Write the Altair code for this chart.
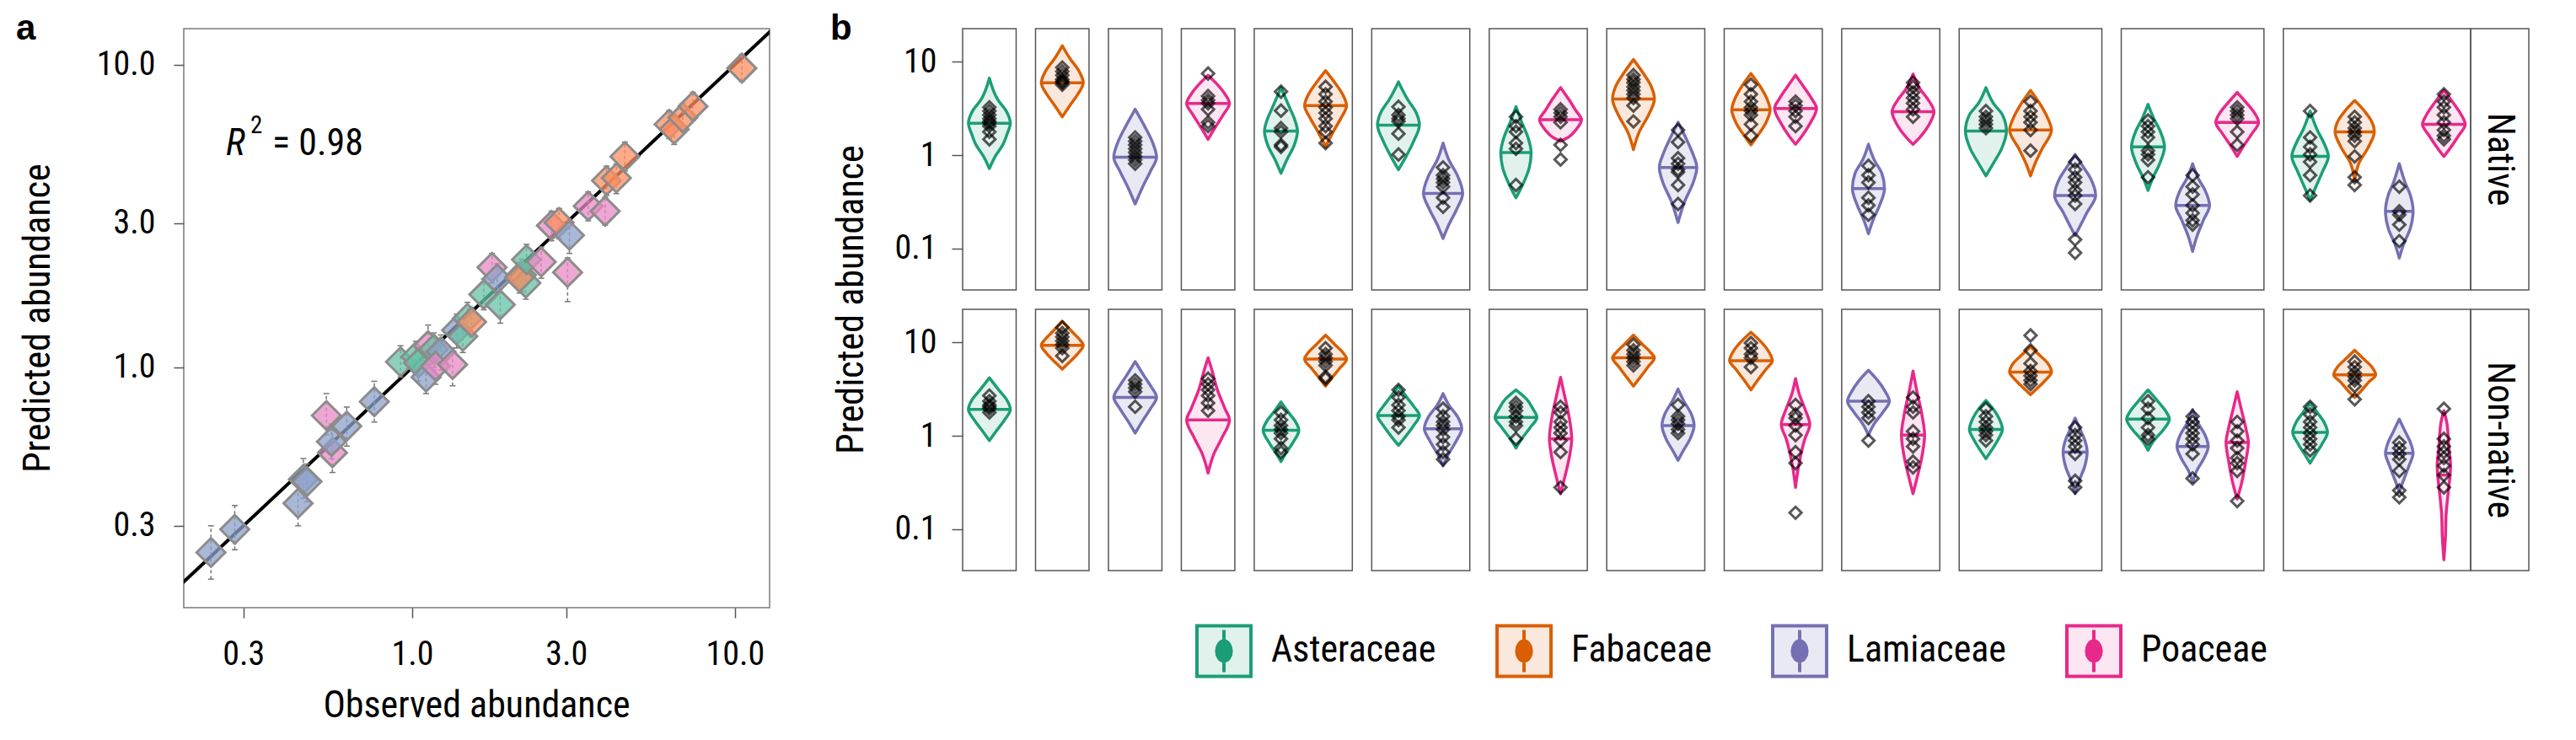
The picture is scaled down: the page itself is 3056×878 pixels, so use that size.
import altair as alt
import numpy as np
import pandas as pd

FONT = "Roboto Condensed, Liberation Sans, Arial, sans-serif"
BOLD = "Liberation Sans, Arial, sans-serif"
TICK_FS = 40
TITLE_FS = 44

FAMILIES = ["Asteraceae", "Fabaceae", "Lamiaceae", "Poaceae"]
FAM_CODE = {"A": "Asteraceae", "F": "Fabaceae", "L": "Lamiaceae", "P": "Poaceae"}
DARK = ["#1b9e77", "#d95f02", "#7570b3", "#e7298a"]
LIGHT = ["#e1f2ec", "#fbe8dc", "#e9e9f4", "#fce6f1"]
PASTEL = ["#66c2a5", "#fc8d62", "#8da0cb", "#e78ac3"]

# ---------------- panel a : observed vs predicted ----------------
OBS = [0.238, 0.282, 0.443, 0.460, 0.472, 0.566, 0.562, 0.542, 0.627, 0.763,
       0.920, 1.026, 1.045, 1.104, 1.12, 1.166, 1.227, 1.18, 1.334, 1.373,
       1.435, 1.483, 1.527, 1.667, 1.874, 1.767, 1.833, 2.18, 2.25, 2.15,
       2.26, 2.51, 2.70, 2.85, 3.07, 3.03, 3.51, 3.96, 4.00, 4.29,
       4.56, 6.25, 6.48, 6.89, 7.41, 10.5]
PRED = [0.245, 0.292, 0.356, 0.427, 0.420, 0.523, 0.569, 0.694, 0.640, 0.771,
        1.044, 1.085, 1.035, 0.929, 1.18, 1.15, 1.127, 1.01, 1.023, 1.328,
        1.267, 1.452, 1.413, 1.742, 1.611, 2.14, 1.96, 2.02, 1.90, 1.98,
        2.27, 2.23, 2.94, 3.01, 2.73, 2.06, 3.41, 3.28, 4.14, 4.22,
        4.97, 6.35, 6.11, 6.68, 7.28, 9.73]
PRED_LO = [0.20, 0.25, 0.30, 0.37, 0.36, 0.45, 0.50, 0.60, 0.55, 0.66,
           0.93, 0.95, 0.90, 0.82, 1.02, 1.00, 0.98, 0.88, 0.87, 1.16,
           1.12, 1.28, 1.26, 1.55, 1.40, 1.90, 1.75, 1.78, 1.68, 1.76,
           2.02, 1.97, 2.62, 2.66, 2.38, 1.65, 3.05, 2.95, 3.70, 3.75,
           4.45, 5.70, 5.45, 6.00, 6.55, 8.80]
PRED_HI = [0.30, 0.35, 0.41, 0.50, 0.48, 0.62, 0.65, 0.82, 0.74, 0.90,
           1.18, 1.22, 1.17, 1.05, 1.38, 1.30, 1.28, 1.14, 1.16, 1.50,
           1.43, 1.64, 1.58, 1.96, 1.82, 2.38, 2.20, 2.28, 2.13, 2.22,
           2.55, 2.50, 3.28, 3.35, 3.05, 2.30, 3.80, 3.65, 4.62, 4.70,
           5.55, 7.05, 6.85, 7.45, 8.10, 10.8]
FAM_A = list("LLLLLPLPLL" + "AAALPALPPL" + "AAFAAPLAAF" + "APPFLPPPFF" + "FFFFFF")
FIT_X = [0.15, 15.0]
FIT_Y = [0.15, 15.0]
R2_VALUE = "0.98"

# ---------------- panel b : violins ----------------
PANELS = [
    ["Asteraceae"], ["Fabaceae"], ["Lamiaceae"], ["Poaceae"],
    ["Asteraceae", "Fabaceae"], ["Asteraceae", "Lamiaceae"], ["Asteraceae", "Poaceae"],
    ["Fabaceae", "Lamiaceae"], ["Fabaceae", "Poaceae"], ["Lamiaceae", "Poaceae"],
    ["Asteraceae", "Fabaceae", "Lamiaceae"], ["Asteraceae", "Lamiaceae", "Poaceae"],
    ["Asteraceae", "Fabaceae", "Lamiaceae", "Poaceae"],
]
ROW_LABELS = ["Native", "Non-native"]

# violin outlines: (predicted abundance, half width in category units), bottom to top
NATIVE_OUTLINES = [
    [(0.72, 0), (0.97, .13), (1.29, .30), (1.70, .40), (2.2, .47), (2.97, .38), (3.93, .19), (6.7, 0)],
    [(2.58, 0), (3.41, .17), (4.51, .35), (5.97, .47), (7.9, .38), (10.9, .17), (14.9, 0)],
    [(0.30, 0), (0.46, .17), (0.67, .34), (0.95, .48), (1.41, .38), (2.05, .21), (3.11, 0)],
    [(1.48, 0), (1.95, .15), (2.71, .34), (3.58, .48), (4.51, .38), (5.70, .21), (7.19, 0)],
    [(0.64, 0), (0.89, .13), (1.29, .30), (1.81, .37), (2.47, .30), (3.26, .19), (5.3, 0)],
    [(1.23, 0), (1.78, .17), (2.47, .34), (3.41, .47), (4.51, .38), (5.97, .21), (8.05, 0)],
    [(0.70, 0), (0.97, .17), (1.41, .34), (2.1, .47), (2.97, .38), (3.93, .21), (6.1, 0)],
    [(0.128, 0), (0.18, .13), (0.26, .30), (0.39, .44), (0.61, .32), (0.89, .13), (1.35, 0)],
    [(0.35, 0), (0.46, .13), (0.74, .30), (1.07, .34), (1.55, .27), (2.25, .13), (3.32, 0)],
    [(1.41, 0), (1.55, .17), (1.86, .34), (2.4, .47), (2.97, .35), (3.93, .19), (5.3, 0)],
    [(1.15, 0), (1.78, .13), (2.71, .34), (4.0, .47), (5.44, .40), (7.19, .25), (10.6, 0)],
    [(0.19, 0), (0.32, .15), (0.51, .34), (0.74, .42), (1.07, .32), (1.41, .21), (2.25, 0)],
    [(1.29, 0), (1.62, .15), (2.25, .34), (3.06, .43), (4.11, .35), (5.44, .21), (7.5, 0)],
    [(1.31, 0), (1.62, .15), (2.25, .34), (3.17, .47), (4.11, .35), (5.19, .21), (7.2, 0)],
    [(0.144, 0), (0.20, .10), (0.29, .25), (0.44, .36), (0.64, .30), (0.89, .13), (1.31, 0)],
    [(1.31, 0), (1.55, .15), (2.05, .34), (2.92, .47), (3.93, .34), (5.19, .15), (7.4, 0)],
    [(0.60, 0), (0.81, .16), (1.17, .35), (1.81, .46), (2.71, .37), (3.58, .17), (5.3, 0)],
    [(0.60, 0), (0.81, .10), (1.17, .26), (1.86, .47), (2.47, .39), (3.26, .26), (4.95, 0)],
    [(0.138, 0), (0.166, .09), (0.24, .26), (0.37, .46), (0.56, .35), (0.74, .19), (1.02, 0)],
    [(0.42, 0), (0.56, .10), (0.81, .26), (1.23, .37), (1.78, .28), (2.47, .13), (3.5, 0)],
    [(0.093, 0), (0.132, .09), (0.20, .24), (0.29, .38), (0.42, .28), (0.56, .13), (0.81, 0)],
    [(0.97, 0), (1.23, .13), (1.70, .33), (2.25, .48), (2.83, .39), (3.58, .22), (4.7, 0)],
    [(0.33, 0), (0.46, .13), (0.67, .28), (0.97, .41), (1.35, .31), (1.86, .16), (2.97, 0)],
    [(0.53, 0), (0.81, .09), (1.23, .31), (1.78, .44), (2.35, .37), (2.97, .22), (3.85, 0)],
    [(0.079, 0), (0.109, .09), (0.166, .25), (0.25, .31), (0.37, .25), (0.51, .13), (0.81, 0)],
    [(0.97, 0), (1.17, .13), (1.62, .33), (2.14, .48), (2.71, .39), (3.58, .22), (4.95, 0)],
]
NATIVE_MEDIANS = [2.2, 5.97, 0.95, 3.58, 1.81, 3.41, 2.1, 0.39, 1.07, 2.4, 4.0, 0.74, 3.06,
                  3.17, 0.44, 2.92, 1.81, 1.86, 0.37, 1.23, 0.29, 2.25, 0.97, 1.78, 0.25, 2.14]
NATIVE_POINTS = [
    [3.26, 2.97, 2.70, 2.46, 2.30, 2.2, 2.05, 1.78, 1.48],
    [8.7, 7.9, 7.2, 6.5, 6.2, 6.0, 5.7],
    [1.55, 1.41, 1.29, 1.17, 1.07, 0.97, 0.89, 0.81],
    [7.5, 4.3, 3.9, 3.6, 3.1, 2.25, 2.05],
    [4.8, 3.0, 1.95, 1.78, 1.29, 1.23],
    [5.4, 4.5, 3.75, 3.25, 2.84, 2.46, 2.05, 1.78, 1.35],
    [3.3, 2.7, 2.46, 2.3, 1.7, 1.02],
    [0.74, 0.61, 0.56, 0.51, 0.46, 0.35, 0.28],
    [2.58, 2.05, 1.78, 1.35, 1.17, 0.48],
    [3.1, 2.83, 2.58, 2.25, 1.29, 0.9],
    [7.2, 6.5, 6.0, 5.4, 4.95, 4.5, 4.1, 3.4, 2.3],
    [1.86, 1.38, 0.93, 0.81, 0.70, 0.66, 0.48, 0.30],
    [5.7, 4.5, 3.75, 3.25, 2.97, 2.7, 2.14, 1.62],
    [3.75, 3.4, 2.97, 2.58, 2.05],
    [0.77, 0.61, 0.51, 0.35, 0.29, 0.23],
    [6.0, 5.4, 4.7, 4.1, 3.6, 3.1, 2.58],
    [2.97, 2.58, 2.35, 2.14, 1.95],
    [3.75, 2.97, 2.58, 2.25, 1.86, 1.12],
    [0.85, 0.70, 0.58, 0.51, 0.42, 0.37, 0.30, 0.125, 0.09],
    [2.35, 2.05, 1.78, 1.55, 1.12, 1.02, 0.89, 0.58],
    [0.61, 0.46, 0.38, 0.29, 0.24, 0.20, 0.18],
    [3.26, 2.97, 2.7, 2.46, 1.78, 1.29],
    [2.97, 1.55, 1.23, 1.02, 0.85, 0.61, 0.37],
    [2.58, 2.25, 1.95, 1.78, 1.62, 1.41, 0.97, 0.58, 0.48],
    [0.46, 0.25, 0.23, 0.18, 0.12],
    [4.5, 3.75, 3.26, 2.7, 2.25, 1.86, 1.62, 1.48],
]

NONNATIVE_OUTLINES = [
    [(0.89, 0), (1.12, .15), (1.48, .34), (1.92, .47), (2.47, .38), (3.11, .21), (4.19, 0)],
    [(5.19, 0), (5.97, .13), (7.53, .34), (9.33, .47), (10.9, .38), (13.2, .21), (16.9, 0)],
    [(1.07, 0), (1.41, .15), (1.95, .34), (2.58, .48), (3.41, .35), (4.31, .21), (6.25, 0)],
    [(0.40, 0), (0.64, .13), (0.93, .30), (1.48, .48), (1.95, .38), (3.11, .21), (5.19, .08), (6.86, 0)],
    [(0.53, 0), (0.64, .10), (0.85, .27), (1.15, .40), (1.48, .30), (1.78, .17), (2.31, 0)],
    [(3.41, 0), (4.11, .13), (5.19, .30), (6.67, .47), (7.9, .38), (9.5, .21), (12.0, 0)],
    [(0.79, 0), (0.97, .15), (1.29, .34), (1.65, .47), (2.05, .35), (2.58, .19), (3.41, 0)],
    [(0.475, 0), (0.61, .10), (0.89, .30), (1.19, .42), (1.62, .32), (2.14, .13), (2.84, 0)],
    [(0.74, 0), (0.93, .13), (1.23, .32), (1.58, .47), (1.95, .38), (2.47, .24), (3.11, 0)],
    [(0.24, 0), (0.37, .10), (0.64, .21), (0.93, .25), (1.62, .19), (2.84, .08), (4.23, 0)],
    [(3.41, 0), (4.11, .13), (5.44, .32), (6.86, .47), (7.9, .38), (9.5, .21), (12.0, 0)],
    [(0.546, 0), (0.67, .10), (0.93, .27), (1.29, .36), (1.70, .30), (2.35, .13), (3.17, 0)],
    [(3.11, 0), (3.93, .15), (5.19, .34), (6.37, .48), (8.26, .38), (10.0, .24), (12.9, 0)],
    [(0.28, 0), (0.48, .07), (0.93, .21), (1.32, .32), (1.95, .21), (2.84, .08), (4.11, 0)],
    [(1.02, 0), (1.35, .13), (1.78, .32), (2.35, .47), (2.97, .38), (3.75, .24), (5.05, 0)],
    [(0.24, 0), (0.37, .10), (0.64, .21), (1.02, .26), (1.78, .19), (3.11, .08), (4.95, 0)],
    [(0.57, 0), (0.67, .10), (0.89, .26), (1.17, .37), (1.55, .29), (1.95, .16), (2.4, 0)],
    [(2.76, 0), (3.26, .16), (3.93, .33), (4.82, .47), (5.97, .39), (7.19, .22), (9.07, 0)],
    [(0.24, 0), (0.33, .09), (0.48, .22), (0.67, .27), (0.89, .22), (1.12, .13), (1.55, 0)],
    [(0.70, 0), (0.89, .13), (1.17, .35), (1.51, .48), (1.86, .39), (2.35, .22), (3.11, 0)],
    [(0.32, 0), (0.42, .09), (0.58, .26), (0.77, .35), (1.02, .28), (1.35, .13), (1.92, 0)],
    [(0.21, 0), (0.30, .09), (0.53, .19), (0.85, .25), (1.23, .19), (1.95, .09), (2.97, 0)],
    [(0.51, 0), (0.61, .10), (0.81, .26), (1.09, .39), (1.41, .31), (1.78, .16), (2.25, 0)],
    [(2.58, 0), (2.97, .13), (3.75, .31), (4.51, .47), (5.44, .39), (6.55, .22), (8.26, 0)],
    [(0.25, 0), (0.33, .09), (0.48, .22), (0.65, .31), (0.85, .25), (1.12, .13), (1.51, 0)],
    [(0.047, 0), (0.083, .035), (0.144, .05), (0.28, .11), (0.38, .14), (0.48, .15), (0.77, .11), (1.35, .07), (1.86, 0)],
]
NONNATIVE_MEDIANS = [1.92, 9.33, 2.58, 1.48, 1.15, 6.67, 1.65, 1.19, 1.58, 0.93, 6.86, 1.29, 6.37,
                     1.32, 2.35, 1.02, 1.17, 4.82, 0.67, 1.51, 0.77, 0.85, 1.09, 4.51, 0.65, 0.38]
NONNATIVE_POINTS = [
    [2.7, 2.35, 2.14, 2.05, 1.95, 1.78],
    [14.5, 12.6, 11.5, 10.4, 9.5, 8.7, 7.2],
    [3.93, 3.58, 3.26, 2.97, 2.05],
    [4.1, 3.58, 3.11, 2.7, 2.25, 1.86],
    [1.78, 1.48, 1.29, 1.17, 1.07, 0.93, 0.74, 0.67],
    [8.7, 7.5, 6.86, 6.25, 5.7, 4.3, 4.1],
    [3.11, 2.58, 2.14, 1.86, 1.62, 1.48, 1.23],
    [1.95, 1.62, 1.41, 1.29, 1.17, 0.97, 0.81, 0.67, 0.56],
    [2.25, 2.05, 1.86, 1.62, 1.41, 1.29, 0.93],
    [2.05, 1.78, 1.41, 1.23, 1.07, 0.89, 0.67, 0.28],
    [9.5, 8.25, 7.5, 6.86, 6.25, 5.7],
    [2.14, 1.62, 1.48, 1.35, 1.17, 1.07],
    [9.9, 8.7, 7.5, 6.86, 5.45],
    [2.14, 1.70, 1.55, 1.29, 1.02, 0.67, 0.51, 0.15],
    [2.35, 2.05, 1.78, 1.55, 0.89],
    [2.58, 2.05, 1.78, 1.12, 0.93, 0.77, 0.53, 0.46],
    [1.95, 1.62, 1.41, 1.23, 1.12, 1.02, 0.89],
    [11.9, 8.25, 5.97, 4.95, 4.41, 3.93, 3.58],
    [1.23, 1.02, 0.89, 0.77, 0.64, 0.33, 0.28],
    [2.35, 1.95, 1.55, 1.23, 1.02, 0.93],
    [1.62, 1.41, 1.23, 1.07, 0.93, 0.81, 0.64, 0.35],
    [1.41, 1.12, 0.89, 0.74, 0.58, 0.51, 0.42, 0.20],
    [2.05, 1.70, 1.41, 1.23, 1.07, 0.93, 0.81, 0.70],
    [6.25, 5.45, 4.72, 4.3, 3.93, 3.41, 2.46],
    [0.85, 0.74, 0.64, 0.56, 0.42, 0.26, 0.22],
    [1.95, 0.93, 0.77, 0.67, 0.58, 0.48, 0.38, 0.28],
]

# ---------------- layout constants (pixels) ----------------
A_W, A_H = 695, 687
UNIT = 52.9            # px per category slot in panel b
GAP_U = 23 / UNIT      # gap between panels
STRIP_U = 69 / UNIT    # strip width
ROW_H = 310

starts, ends = [], []
cur = 0.0
for fams in PANELS:
    starts.append(cur)
    ends.append(cur + len(fams) + 0.2)
    cur = ends[-1] + GAP_U
STRIP_S = ends[-1]
STRIP_E = STRIP_S + STRIP_U
XMAX = STRIP_E
ROW_W = round(XMAX * UNIT)


def row_tables(outlines, medians, points):
    outl, med, pts = [], [], []
    k = 0
    for i, fams in enumerate(PANELS):
        for j, fam in enumerate(fams):
            cx = starts[i] + 0.6 + j
            prof = outlines[k]
            for v, hw in prof:
                outl.append(dict(vid=k, family=fam, y=v, xl=cx - hw, xr=cx + hw))
            lv = np.log10([p[0] for p in prof])
            hws = [p[1] for p in prof]
            m = medians[k]
            mhw = float(np.interp(np.log10(m), lv, hws))
            med.append(dict(vid=k, family=fam, y=m, xl=cx - mhw, xr=cx + mhw))
            for v in points[k]:
                pts.append(dict(vid=k, family=fam, y=v, x=cx))
            k += 1
    return pd.DataFrame(outl), pd.DataFrame(med), pd.DataFrame(pts)


def ellipse(rx, ry):
    return f"M{-rx},0A{rx},{ry} 0 1,0 {rx},0A{rx},{ry} 0 1,0 {-rx},0Z"


KEY_PATH = ("M-1,-0.94H1V0.94H-1Z M0,-0.78V0.78 " +
            " ".join(ellipse(rx, ry) for rx, ry in
                     [(0.27, 0.37), (0.2, 0.28), (0.13, 0.19), (0.06, 0.1)]))

LEG = alt.Legend(title=None, orient="none", legendX=276, legendY=704,
                 direction="horizontal", symbolType=KEY_PATH, symbolSize=4096,
                 symbolStrokeWidth=4, symbolOpacity=1, labelFontSize=TITLE_FS,
                 labelFont=FONT, labelOffset=22, labelLimit=500, columnPadding=64,
                 labelColor="black")

fill_scale = alt.Scale(domain=FAMILIES, range=LIGHT)
stroke_scale = alt.Scale(domain=FAMILIES, range=DARK)
xs_b = alt.Scale(domain=[0, XMAX], nice=False, zero=False)
ys_b = alt.Scale(type="log", domain=[0.036, 22.7], nice=False)
yaxis_b = alt.Axis(values=[0.1, 1, 10], format="~g", title=None, tickSize=13,
                   labelPadding=18, labelFontSize=TICK_FS, domain=False, grid=False,
                   tickColor="#555", tickWidth=1.5)

frames_df = pd.DataFrame({"s": starts, "e": ends})


def build_row(outlines, medians, points, label, first):
    outl, med, pts = row_tables(outlines, medians, points)
    X = lambda f: alt.X(f, scale=xs_b, axis=None)
    Y = lambda f: alt.Y(f, scale=ys_b, axis=yaxis_b)
    area = alt.Chart(outl).mark_area(
        orient="horizontal", interpolate="monotone", strokeWidth=3.5,
        opacity=1, fillOpacity=1, strokeJoin="round").encode(
        y=Y("y:Q"), x=X("xl:Q"), x2="xr:Q", detail="vid:N",
        fill=alt.Fill("family:N", scale=fill_scale, legend=LEG),
        stroke=alt.Stroke("family:N", scale=stroke_scale, legend=LEG))
    medl = alt.Chart(med).mark_rule(strokeWidth=3.5).encode(
        y=Y("y:Q"), x=X("xl:Q"), x2="xr:Q",
        stroke=alt.Stroke("family:N", scale=stroke_scale, legend=LEG))
    dots = alt.Chart(pts).mark_point(
        shape="diamond", size=200, filled=False, color="black",
        opacity=0.65, strokeWidth=3).encode(y=Y("y:Q"), x=X("x:Q"))
    frames = alt.Chart(frames_df).mark_rect(
        fill="white", fillOpacity=0, stroke="#555", strokeWidth=1.5).encode(
        x=X("s:Q"), x2="e:Q", y=alt.value(0), y2=alt.value(ROW_H))
    strip_df = pd.DataFrame({"s": [STRIP_S], "e": [STRIP_E],
                             "m": [(STRIP_S + STRIP_E) / 2], "label": [label]})
    strip = alt.Chart(strip_df).mark_rect(
        fill="white", fillOpacity=0, stroke="#555", strokeWidth=1.5).encode(
        x=X("s:Q"), x2="e:Q", y=alt.value(0), y2=alt.value(ROW_H))
    strip_txt = alt.Chart(strip_df).mark_text(
        angle=90, fontSize=TITLE_FS, font=FONT, color="black",
        baseline="middle", align="center").encode(
        x=X("m:Q"), y=alt.value(ROW_H / 2), text="label:N")
    layers = [area, medl, dots, frames, strip, strip_txt]
    if first:
        ttl = alt.Chart(pd.DataFrame({"t": ["Predicted abundance"]})).mark_text(
            angle=270, fontSize=TITLE_FS, font=FONT, color="black",
            baseline="alphabetic", align="center").encode(
            x=alt.value(-118), y=alt.value(321.5), text="t:N")
        lab = alt.Chart(pd.DataFrame({"t": ["b"]})).mark_text(
            fontSize=42, font=BOLD, fontWeight="bold", color="black",
            baseline="alphabetic", align="left").encode(
            x=alt.value(-157), y=alt.value(13), text="t:N")
        layers += [ttl, lab]
    return alt.layer(*layers).properties(width=ROW_W, height=ROW_H)


row1 = build_row(NATIVE_OUTLINES, NATIVE_MEDIANS, NATIVE_POINTS, ROW_LABELS[0], True)
row2 = build_row(NONNATIVE_OUTLINES, NONNATIVE_MEDIANS, NONNATIVE_POINTS, ROW_LABELS[1], False)
panel_b = alt.vconcat(row1, row2, spacing=23, bounds="flush")

# ---------------- panel a chart ----------------
df_a = pd.DataFrame({"obs": OBS, "pred": PRED, "lo": PRED_LO, "hi": PRED_HI,
                     "fam": [FAM_CODE[c] for c in FAM_A]})
xs_a = alt.Scale(type="log", domain=[0.196, 12.8], nice=False)
ys_a = alt.Scale(type="log", domain=[0.161, 13.14], nice=False)
xaxis_a = alt.Axis(values=[0.3, 1, 3, 10], format=".1f", title=None, tickSize=12,
                   labelPadding=23, labelFontSize=TICK_FS, domain=False, grid=False,
                   tickColor="#555", tickWidth=1.5)
yaxis_a = alt.Axis(values=[0.3, 1, 3, 10], format=".1f", title=None, tickSize=12,
                   labelPadding=22, labelFontSize=TICK_FS, domain=False, grid=False,
                   tickColor="#555", tickWidth=1.5)
XA = lambda f: alt.X(f, scale=xs_a, axis=xaxis_a)
YA = lambda f: alt.Y(f, scale=ys_a, axis=yaxis_a)

fit = alt.Chart(pd.DataFrame({"x": FIT_X, "y": FIT_Y})).mark_line(
    color="black", strokeWidth=4, clip=True).encode(x=XA("x:Q"), y=YA("y:Q"))
err = alt.Chart(df_a).mark_rule(color="#777", strokeWidth=1.5, strokeDash=[4, 3]).encode(
    x=XA("obs:Q"), y=YA("lo:Q"), y2="hi:Q")
caps = alt.Chart(df_a).transform_fold(["lo", "hi"], as_=["k", "v"]).mark_tick(
    color="#777", thickness=1.5, size=7, orient="horizontal", opacity=1).encode(
    x=XA("obs:Q"), y=YA("v:Q"))
pts_a = alt.Chart(df_a).mark_point(
    shape="diamond", size=1150, filled=True, opacity=1, fillOpacity=0.75,
    stroke="#8c8c8c", strokeWidth=3, strokeOpacity=1).encode(
    x=XA("obs:Q"), y=YA("pred:Q"),
    fill=alt.Fill("fam:N", scale=alt.Scale(domain=FAMILIES, range=PASTEL), legend=None))


def txt(t, x, y, **kw):
    base = dict(fontSize=TITLE_FS, font=FONT, color="black", baseline="alphabetic", align="left")
    base.update(kw)
    return alt.Chart(pd.DataFrame({"t": [t]})).mark_text(**base).encode(
        x=alt.value(x), y=alt.value(y), text="t:N")


a_label = txt("a", -199, 13, fontSize=42, font=BOLD, fontWeight="bold")
a_ytitle = txt("Predicted abundance", -159, A_H / 2, angle=270, align="center")
a_xtitle = txt("Observed abundance", A_W / 2, 817, align="center")
r2_r = txt("R", 50, 150, fontStyle="italic")
r2_sup = txt("2", 79, 124, fontSize=29)
r2_val = txt("= " + R2_VALUE, 105, 150)

panel_a = alt.layer(fit, err, caps, pts_a, a_label, a_ytitle, a_xtitle, r2_r, r2_sup, r2_val).properties(
    width=A_W, height=A_H, view=alt.ViewBackground(stroke="#7a7a7a", strokeWidth=1.5))

chart = alt.hconcat(panel_a, panel_b, spacing=229, bounds="flush").resolve_scale(
    fill="independent", stroke="independent").properties(
    padding={"left": 10, "top": 4, "right": 5, "bottom": 5}).configure(
    font=FONT).configure_view(stroke=None).configure_axis(
    labelFont=FONT, labelColor="black")

chart.save("out.html", embed_options={"renderer": "svg", "actions": False})
